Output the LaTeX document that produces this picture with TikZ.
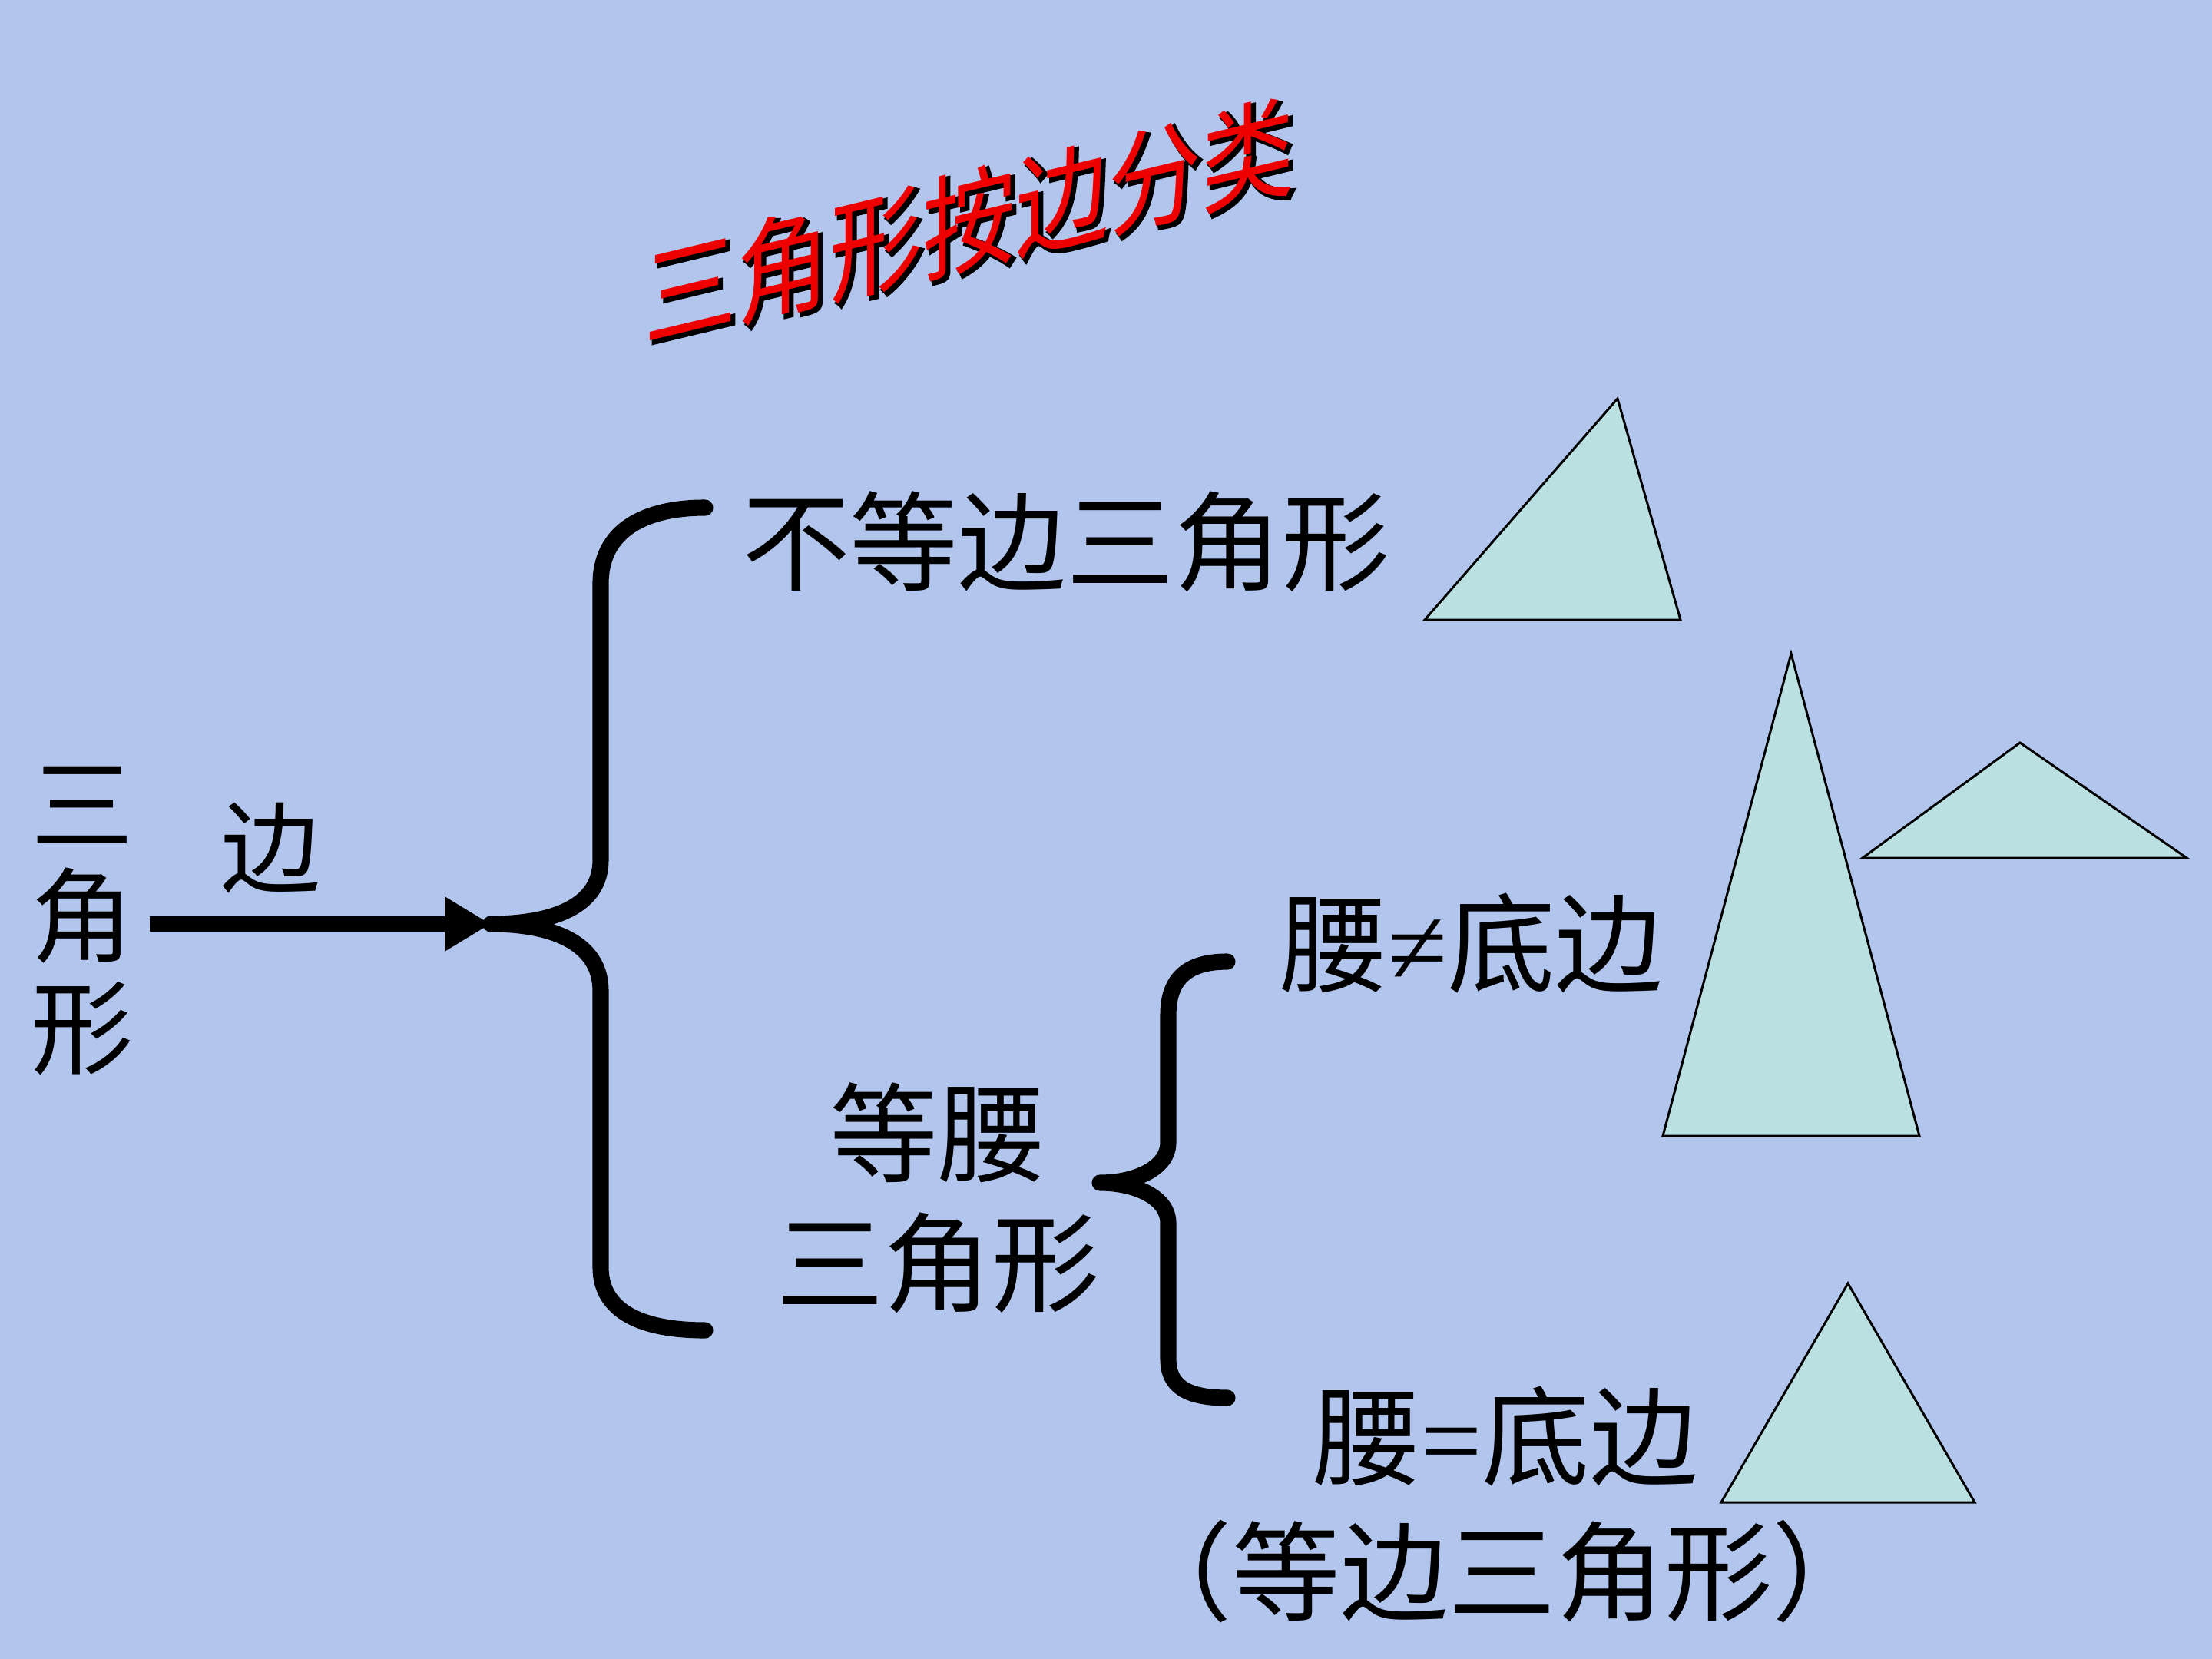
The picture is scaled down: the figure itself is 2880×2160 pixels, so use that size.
\documentclass[tikz,border=0pt]{standalone}
\usepackage{fontspec}
\newfontfamily\cjk{Noto Sans CJK SC}
\newfontfamily\cjkbold[FakeBold=3]{Noto Sans CJK SC}
\newfontfamily\symf{Liberation Serif}
\usetikzlibrary{arrows.meta}
\definecolor{bgcol}{RGB}{178,198,237}
\definecolor{trifill}{RGB}{187,224,226}
\definecolor{titlered}{RGB}{238,0,0}
\begin{document}
\begin{tikzpicture}[x=0.01cm,y=-0.01cm,
  lbl/.style={font=\cjk\fontsize{40}{48}\selectfont, inner sep=0pt, align=center, text=black},
  bracestroke/.style={line width=6pt, line cap=round, line join=round},
  trishape/.style={draw=black, line width=0.85pt, fill=trifill, line join=miter},
  titletext/.style={inner sep=0pt, yslant=0.24, xscale=0.93, yscale=1.12, transform shape}]
\fill[bgcol] (0,0) rectangle (2880,2160);
\useasboundingbox (0,0) rectangle (2880,2160);

% title
\begin{scope}[shift={(1262,288)}]
  \node[titletext, text=black, font=\cjkbold\fontsize{37}{40}\selectfont] (titleshadow) at (4,3) {三角形按边分类};
  \node[titletext, text=titlered, font=\cjk\fontsize{37}{40}\selectfont] (title) at (0,0) {三角形按边分类};
\end{scope}

% left vertical label and arrow
\node[lbl, font=\cjk\fontsize{38}{41.3}\selectfont] (sjx) at (107,1199) {三\\角\\形};
\node[lbl, font=\cjk\fontsize{37}{40}\selectfont] (bian) at (353,1104) {边};
\coordinate (btip) at (639,1203);
\draw[line width=5.5pt, shorten <=5.7pt, -{Triangle[length=17pt,width=19pt]}] (sjx.east |- btip) -- (btip);

% big brace
\draw[bracestroke] (918,661) .. controls (840,661) and (782,690) .. (782,760)
  -- (782,1120) .. controls (782,1180) and (720,1203) .. (btip)
  .. controls (720,1203) and (782,1228) .. (782,1290)
  -- (782,1650) .. controls (782,1710) and (840,1732) .. (918,1732);

% labels
\node[lbl] (scalene) at (1388,705) {不等边三角形};
\node[lbl] (isos) at (1221,1560) {等腰\\三角形};

% small brace
\coordinate (stip) at (1432,1540);
\draw[bracestroke] (1598,1252) .. controls (1545,1252) and (1521,1275) .. (1521,1322)
  -- (1521,1488) .. controls (1521,1520) and (1480,1540) .. (stip)
  .. controls (1480,1540) and (1521,1560) .. (1521,1592)
  -- (1521,1769) .. controls (1521,1805) and (1545,1820) .. (1598,1820);

\node[lbl] (neq) at (1916,1228) {腰{\symf ≠}底边};
\node[lbl] (eq) at (1960,1870) {腰{\symf =}底边};
\node[lbl] (equi) at (1956,2046) {（等边三角形）};

% triangles
\draw[trishape] (1855,807) -- (2106,519) -- (2188,807) -- cycle;
\draw[trishape] (2165,1479) -- (2332,851) -- (2499,1479) -- cycle;
\draw[trishape] (2425,1117) -- (2630,967) -- (2847,1117) -- cycle;
\draw[trishape] (2241,1956) -- (2406,1671) -- (2571,1956) -- cycle;
\end{tikzpicture}
\end{document}
